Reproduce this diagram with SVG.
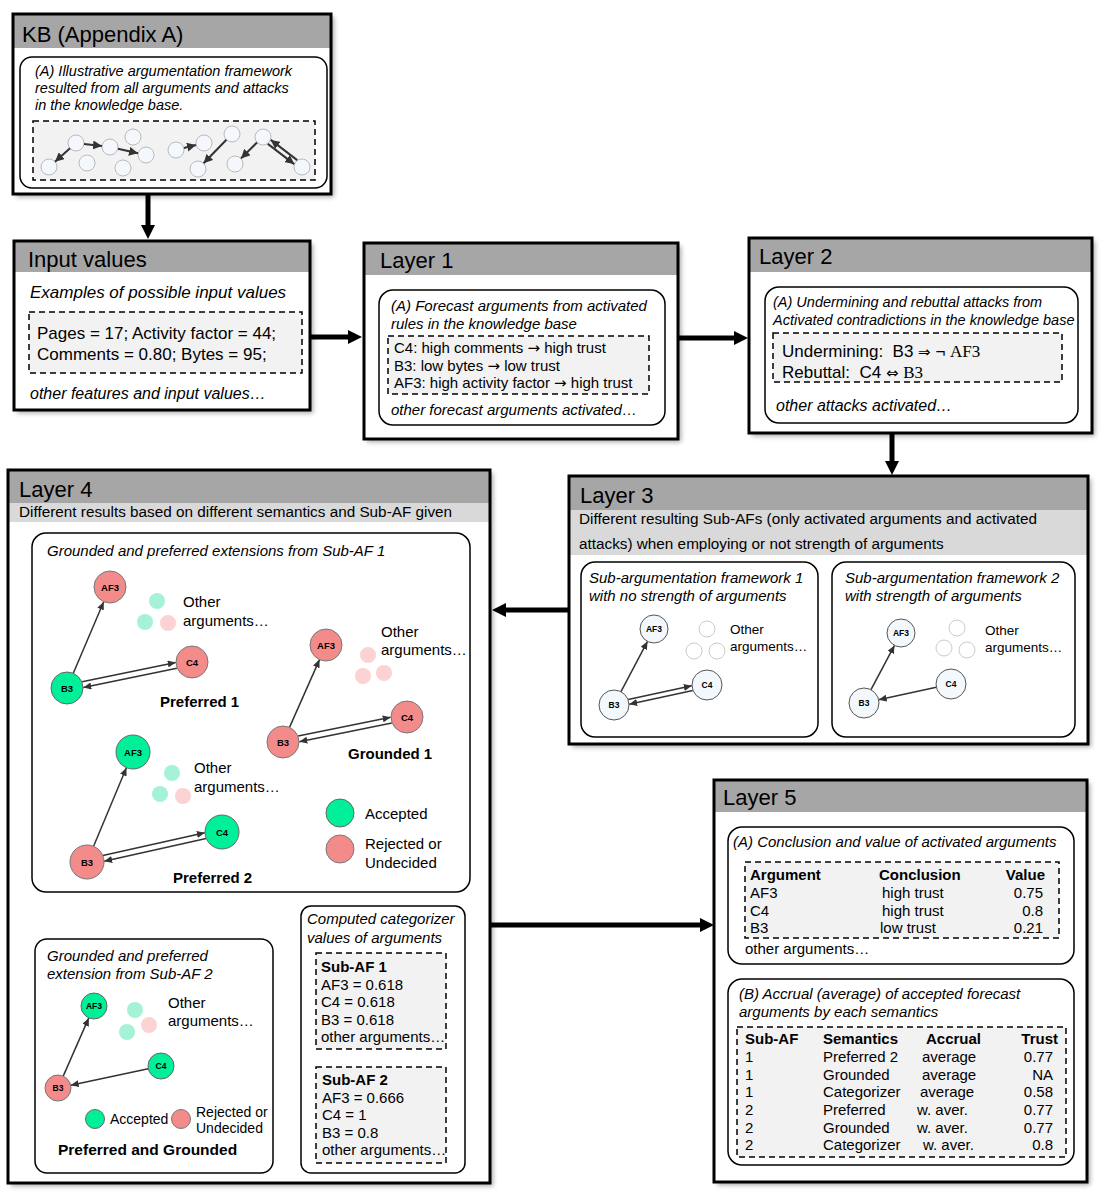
<svg xmlns="http://www.w3.org/2000/svg" width="1106" height="1200" viewBox="0 0 1106 1200">
<defs>
<filter id="sh" x="-5%" y="-5%" width="110%" height="110%"><feDropShadow dx="3" dy="3" stdDeviation="2.5" flood-color="#000" flood-opacity="0.35"/></filter>
<marker id="big" markerUnits="userSpaceOnUse" markerWidth="14" markerHeight="14" refX="1" refY="7" orient="auto"><path d="M0,0 L14,7 L0,14 z" fill="#000"/></marker>
<marker id="ah" markerUnits="userSpaceOnUse" markerWidth="8" markerHeight="7" refX="8" refY="3.5" orient="auto"><path d="M0,0 L8,3.5 L0,7 z" fill="#333"/></marker>
<marker id="ahk" markerUnits="userSpaceOnUse" markerWidth="9" markerHeight="9" refX="9" refY="4.5" orient="auto"><path d="M0,0 L9,4.5 L0,9 z" fill="#333"/></marker>
</defs>
<style>
.box{fill:#fff;stroke:none;filter:url(#sh)}
.bord{fill:none;stroke:#000;stroke-width:3}
.hdr{fill:#a6a6a6}
.band{fill:#d9d9d9}
.inner{fill:#fff;stroke:#000;stroke-width:1.5}
.dash{fill:#f2f2f2;stroke:#000;stroke-width:1.5;stroke-dasharray:6 4}
text{font-family:'Liberation Sans',Arial,sans-serif;fill:#000}
.h{font-size:22px}
.it{font-style:italic}
.b{font-weight:bold}
.s14{font-size:14.5px}
.s15{font-size:15px}
.s16{font-size:16px}
.s17{font-size:17px}
.ar{font-family:'DejaVu Sans',sans-serif;font-size:15px}
.ser{font-family:'Liberation Serif','Times New Roman',serif}
.conn{stroke:#000;stroke-width:5;fill:none}
.e{stroke:#333;stroke-width:1.5;fill:none;marker-end:url(#ah)}
.ek{stroke:#333;stroke-width:2;fill:none;marker-end:url(#ahk)}
.kn{fill:#f4f8fc;stroke:#bbb;stroke-width:1}
.n3{fill:#f3f8fd;stroke:#555;stroke-width:1}
.f3{fill:#fff;stroke:#ccc;stroke-width:1}
.g{fill:#00f09a;stroke:#666;stroke-width:1}
.r{fill:#f48b8b;stroke:#777;stroke-width:1}
.fg{fill:#a6f2d6}
.fr{fill:#fcd2d2}
.nl{font-size:9.5px;font-weight:bold;text-anchor:middle}
.nl3{font-size:8.5px;font-weight:bold;text-anchor:middle}
.end{text-anchor:end}
</style>

<!-- KB -->
<g id="kb">
<rect class="box" x="13" y="14" width="318" height="180"/>
<rect class="hdr" x="13" y="14" width="318" height="34"/>
<rect class="bord" x="13" y="14" width="318" height="180"/>
<text class="h" x="22" y="42">KB (Appendix A)</text>
<rect class="inner" x="20" y="57" width="307" height="131" rx="12"/>
<text class="it s14" x="35" y="76">(A) Illustrative argumentation framework</text>
<text class="it s14" x="35" y="93">resulted from all arguments and attacks</text>
<text class="it s14" x="35" y="110">in the knowledge base.</text>
<rect class="dash" x="33" y="121" width="282" height="59"/>
<circle class="kn" cx="49" cy="167" r="8"/>
<circle class="kn" cx="76" cy="143" r="8"/>
<circle class="kn" cx="87" cy="163" r="8"/>
<circle class="kn" cx="110" cy="147" r="8"/>
<circle class="kn" cx="133" cy="137" r="8"/>
<circle class="kn" cx="123" cy="168" r="8"/>
<circle class="kn" cx="146" cy="155" r="8"/>
<circle class="kn" cx="176" cy="150" r="8"/>
<circle class="kn" cx="204" cy="143" r="8"/>
<circle class="kn" cx="232" cy="134" r="8"/>
<circle class="kn" cx="198" cy="169" r="8"/>
<circle class="kn" cx="235" cy="164" r="8"/>
<circle class="kn" cx="263" cy="137" r="8"/>
<circle class="kn" cx="302" cy="167" r="8"/>
<line class="ek" x1="70" y1="148.3" x2="55" y2="161.7"/>
<line class="ek" x1="84" y1="144" x2="102" y2="146"/>
<line class="ek" x1="118" y1="148.7" x2="138" y2="153.3"/>
<line class="ek" x1="184" y1="148" x2="196" y2="145"/>
<line class="ek" x1="226.4" y1="139.7" x2="203.6" y2="163.3"/>
<line class="ek" x1="257" y1="142.5" x2="241" y2="158.4"/>
<line class="ek" x1="267.8" y1="143.9" x2="294.2" y2="164.1"/>
<line class="ek" x1="297.2" y1="160.1" x2="270.8" y2="139.9"/>
</g>

<!-- Input values -->
<g id="input">
<rect class="box" x="14" y="241" width="296" height="169"/>
<rect class="hdr" x="14" y="241" width="296" height="31"/>
<rect class="bord" x="14" y="241" width="296" height="169"/>
<text class="h" x="28" y="267">Input values</text>
<text class="it s17" x="30" y="298">Examples of possible input values</text>
<rect class="dash" x="29" y="312" width="273" height="61"/>
<text class="s17" x="37" y="339">Pages = 17; Activity factor = 44;</text>
<text class="s17" x="37" y="360">Comments = 0.80; Bytes = 95;</text>
<text class="it s16" x="30" y="399">other features and input values…</text>
</g>

<!-- Layer 1 -->
<g id="layer1">
<rect class="box" x="364" y="243" width="314" height="196"/>
<rect class="hdr" x="364" y="243" width="314" height="32"/>
<rect class="bord" x="364" y="243" width="314" height="196"/>
<text class="h" x="380" y="268">Layer 1</text>
<rect class="inner" x="379" y="290" width="286" height="135" rx="14"/>
<text class="it s15" x="391" y="311">(A) Forecast arguments from activated</text>
<text class="it s15" x="391" y="329">rules in the knowledge base</text>
<rect class="dash" x="388" y="336" width="261" height="58"/>
<text class="s15" x="394" y="353" xml:space="preserve">C4: high comments <tspan class="ar">→</tspan> high trust</text>
<text class="s15" x="394" y="371" xml:space="preserve">B3: low bytes <tspan class="ar">→</tspan> low trust</text>
<text class="s15" x="394" y="388" xml:space="preserve">AF3: high activity factor <tspan class="ar">→</tspan> high trust</text>
<text class="it s15" x="391" y="415">other forecast arguments activated…</text>
</g>

<!-- Layer 2 -->
<g id="layer2">
<rect class="box" x="749" y="238" width="343" height="195"/>
<rect class="hdr" x="749" y="238" width="343" height="34"/>
<rect class="bord" x="749" y="238" width="343" height="195"/>
<text class="h" x="759" y="264">Layer 2</text>
<rect class="inner" x="765" y="287" width="313" height="136" rx="14"/>
<text class="it s14" x="773" y="307">(A) Undermining and rebuttal attacks from</text>
<text class="it s14" x="773" y="325">Activated contradictions in the knowledge base</text>
<rect class="dash" x="773" y="333" width="289" height="49"/>
<text class="s17" x="782" y="357" xml:space="preserve">Undermining:  B3 <tspan class="ar">⇒</tspan> ¬ <tspan class="ser">AF3</tspan></text>
<text class="s17" x="782" y="378" xml:space="preserve">Rebuttal:  C4 <tspan class="ar">⇔</tspan> <tspan class="ser">B3</tspan></text>
<text class="it s16" x="776" y="411">other attacks activated…</text>
</g>

<!-- Layer 3 -->
<g id="layer3">
<rect class="box" x="569" y="476" width="519" height="268"/>
<rect class="hdr" x="569" y="476" width="519" height="34"/>
<rect class="band" x="569" y="510" width="519" height="45"/>
<rect class="bord" x="569" y="476" width="519" height="268"/>
<text class="h" x="580" y="503">Layer 3</text>
<text style="font-size:15.3px" x="579" y="524">Different resulting Sub-AFs (only activated arguments and activated</text>
<text style="font-size:15.3px" x="579" y="549">attacks) when employing or not strength of arguments</text>
<rect class="inner" x="581" y="562" width="237" height="175" rx="14"/>
<text class="it s15" x="589" y="583">Sub-argumentation framework 1</text>
<text class="it s15" x="589" y="601">with no strength of arguments</text>
<circle class="f3" cx="707" cy="629" r="8"/>
<circle class="f3" cx="694" cy="651" r="8"/>
<circle class="f3" cx="717" cy="651" r="8"/>
<text style="font-size:13.5px" x="730" y="634">Other</text>
<text style="font-size:13.5px" x="730" y="651">arguments…</text>
<line class="e" x1="621" y1="691.7" x2="647.5" y2="641.4"/>
<line class="e" x1="628.2" y1="699.4" x2="691.8" y2="685.8"/>
<line class="e" x1="692.8" y1="690.6" x2="629.2" y2="704.2"/>
<circle class="n3" cx="654" cy="629" r="14"/><text class="nl3" x="654" y="632">AF3</text>
<circle class="n3" cx="614" cy="705" r="15"/><text class="nl3" x="614" y="708">B3</text>
<circle class="n3" cx="707" cy="685" r="15"/><text class="nl3" x="707" y="688">C4</text>
<rect class="inner" x="832" y="562" width="243" height="175" rx="14"/>
<text class="it s15" x="845" y="583">Sub-argumentation framework 2</text>
<text class="it s15" x="845" y="601">with strength of arguments</text>
<circle class="f3" cx="957" cy="628" r="8"/>
<circle class="f3" cx="944" cy="648" r="8"/>
<circle class="f3" cx="967" cy="650" r="8"/>
<text style="font-size:13.5px" x="985" y="635">Other</text>
<text style="font-size:13.5px" x="985" y="652">arguments…</text>
<line class="e" x1="871" y1="689.7" x2="894.5" y2="645.4"/>
<line class="e" x1="936.3" y1="687.2" x2="878.7" y2="699.8"/>
<circle class="n3" cx="901" cy="633" r="14"/><text class="nl3" x="901" y="636">AF3</text>
<circle class="n3" cx="864" cy="703" r="15"/><text class="nl3" x="864" y="706">B3</text>
<circle class="n3" cx="951" cy="684" r="15"/><text class="nl3" x="951" y="687">C4</text>
</g>

<!-- Layer 4 -->
<g id="layer4">
<rect class="box" x="8" y="470" width="482" height="713"/>
<rect class="hdr" x="8" y="470" width="482" height="33"/>
<rect class="band" x="8" y="503" width="482" height="19"/>
<rect class="bord" x="8" y="470" width="482" height="713"/>
<text class="h" x="19" y="497">Layer 4</text>
<text style="font-size:15.3px" x="19" y="517">Different results based on different semantics and Sub-AF given</text>
<rect class="inner" x="32" y="533" width="438" height="359" rx="14"/>
<text class="it s15" x="47" y="556">Grounded and preferred extensions from Sub-AF 1</text>
<!-- Preferred 1 -->
<circle class="fg" cx="157" cy="601" r="8"/>
<circle class="fg" cx="145" cy="622" r="8"/>
<circle class="fr" cx="168" cy="623" r="8"/>
<text class="s15" x="183" y="607">Other</text>
<text class="s15" x="183" y="626">arguments…</text>
<line class="e" x1="73.3" y1="673.3" x2="103.7" y2="601.7"/>
<line class="e" x1="82.1" y1="681.8" x2="175.7" y2="662.4"/>
<line class="e" x1="176.9" y1="668.2" x2="83.3" y2="687.6"/>
<circle class="r" cx="110" cy="587" r="16"/><text class="nl" x="110" y="590.5">AF3</text>
<circle class="g" cx="67" cy="688" r="16"/><text class="nl" x="67" y="691.5">B3</text>
<circle class="r" cx="192" cy="662" r="16"/><text class="nl" x="192" y="665.5">C4</text>
<text class="b s15" x="160" y="707">Preferred 1</text>
<!-- Grounded 1 -->
<circle class="fr" cx="368" cy="655" r="8"/>
<circle class="fr" cx="363" cy="676" r="8"/>
<circle class="fr" cx="384" cy="673" r="8"/>
<text class="s15" x="381" y="637">Other</text>
<text class="s15" x="381" y="655">arguments…</text>
<line class="e" x1="289.5" y1="727.4" x2="319.5" y2="659.6"/>
<line class="e" x1="298.1" y1="735.9" x2="390.7" y2="717.3"/>
<line class="e" x1="391.9" y1="723.1" x2="299.3" y2="741.7"/>
<circle class="r" cx="326" cy="645" r="16"/><text class="nl" x="326" y="648.5">AF3</text>
<circle class="r" cx="283" cy="742" r="16"/><text class="nl" x="283" y="745.5">B3</text>
<circle class="r" cx="407" cy="717" r="16"/><text class="nl" x="407" y="720.5">C4</text>
<text class="b s15" x="348" y="759">Grounded 1</text>
<!-- Preferred 2 -->
<circle class="fg" cx="172" cy="773" r="8"/>
<circle class="fg" cx="160" cy="794" r="8"/>
<circle class="fr" cx="183" cy="796" r="8"/>
<text class="s15" x="194" y="773">Other</text>
<text class="s15" x="194" y="792">arguments…</text>
<line class="e" x1="93.6" y1="846.3" x2="126.4" y2="767.7"/>
<line class="e" x1="102.9" y1="855.4" x2="204.8" y2="832.8"/>
<line class="e" x1="206.1" y1="838.6" x2="104.2" y2="861.2"/>
<circle class="g" cx="133" cy="752" r="17"/><text class="nl" x="133" y="755.5">AF3</text>
<circle class="r" cx="87" cy="862" r="17"/><text class="nl" x="87" y="865.5">B3</text>
<circle class="g" cx="222" cy="832" r="17"/><text class="nl" x="222" y="835.5">C4</text>
<text class="b s15" x="173" y="883">Preferred 2</text>
<!-- legend -->
<circle class="g" cx="340" cy="813" r="14"/>
<text class="s15" x="365" y="819">Accepted</text>
<circle class="r" cx="340" cy="849" r="14"/>
<text class="s15" x="365" y="849">Rejected or</text>
<text class="s15" x="365" y="868">Undecided</text>
<!-- Sub-AF 2 box -->
<rect class="inner" x="35" y="939" width="238" height="234" rx="12"/>
<text class="it s15" x="47" y="961">Grounded and preferred</text>
<text class="it s15" x="47" y="979">extension from Sub-AF 2</text>
<circle class="fg" cx="135" cy="1010" r="8"/>
<circle class="fg" cx="127" cy="1032" r="8"/>
<circle class="fr" cx="149" cy="1025" r="8"/>
<text class="s15" x="168" y="1008">Other</text>
<text class="s15" x="168" y="1026">arguments…</text>
<line class="e" x1="63.2" y1="1076.1" x2="88.8" y2="1017.9"/>
<line class="e" x1="148.3" y1="1068.7" x2="70.7" y2="1085.3"/>
<circle class="g" cx="94" cy="1006" r="13"/><text class="nl3" x="94" y="1009">AF3</text>
<circle class="r" cx="58" cy="1088" r="13"/><text class="nl3" x="58" y="1091">B3</text>
<circle class="g" cx="161" cy="1066" r="13"/><text class="nl3" x="161" y="1069">C4</text>
<circle class="g" cx="95" cy="1119" r="9.5"/>
<text style="font-size:14px" x="110" y="1124">Accepted</text>
<circle class="r" cx="181" cy="1119" r="9.5"/>
<text style="font-size:14px" x="196" y="1117">Rejected or</text>
<text style="font-size:14px" x="196" y="1133">Undecided</text>
<text class="b" style="font-size:15.5px" x="58" y="1155">Preferred and Grounded</text>
<!-- categorizer -->
<rect class="inner" x="301" y="906" width="164" height="267" rx="10"/>
<text class="it s15" x="307" y="924">Computed categorizer</text>
<text class="it s15" x="307" y="943">values of arguments</text>
<rect class="dash" x="316" y="953" width="130" height="96"/>
<text class="b s15" x="321" y="972">Sub-AF 1</text>
<text class="s15" x="321" y="990">AF3 = 0.618</text>
<text class="s15" x="321" y="1007">C4 = 0.618</text>
<text class="s15" x="321" y="1025">B3 = 0.618</text>
<text class="s15" x="321" y="1042">other arguments…</text>
<rect class="dash" x="316" y="1067" width="130" height="96"/>
<text class="b s15" x="322" y="1085">Sub-AF 2</text>
<text class="s15" x="322" y="1103">AF3 = 0.666</text>
<text class="s15" x="322" y="1120">C4 = 1</text>
<text class="s15" x="322" y="1138">B3 = 0.8</text>
<text class="s15" x="322" y="1155">other arguments…</text>
</g>

<!-- Layer 5 -->
<g id="layer5">
<rect class="box" x="714" y="780" width="373" height="402"/>
<rect class="hdr" x="714" y="780" width="373" height="32"/>
<rect class="bord" x="714" y="780" width="373" height="402"/>
<text class="h" x="723" y="805">Layer 5</text>
<rect class="inner" x="728" y="827" width="346" height="137" rx="14"/>
<text class="it s15" x="733" y="847">(A) Conclusion and value of activated arguments</text>
<rect class="dash" x="745" y="862" width="314" height="76"/>
<text class="b s15" x="750" y="880">Argument</text>
<text class="b s15" x="879" y="880">Conclusion</text>
<text class="b s15 end" x="1045" y="880">Value</text>
<text class="s15" x="750" y="898">AF3</text><text class="s15" x="882" y="898">high trust</text><text class="s15 end" x="1043" y="898">0.75</text>
<text class="s15" x="750" y="916">C4</text><text class="s15" x="882" y="916">high trust</text><text class="s15 end" x="1043" y="916">0.8</text>
<text class="s15" x="750" y="933">B3</text><text class="s15" x="880" y="933">low trust</text><text class="s15 end" x="1043" y="933">0.21</text>
<text class="s15" x="745" y="954">other arguments…</text>
<rect class="inner" x="728" y="979" width="346" height="186" rx="14"/>
<text class="it s15" x="739" y="999">(B) Accrual (average) of accepted forecast</text>
<text class="it s15" x="739" y="1017">arguments by each semantics</text>
<rect class="dash" x="737" y="1027" width="329" height="130"/>
<text class="b s15" x="745" y="1044">Sub-AF</text>
<text class="b s15" x="823" y="1044">Semantics</text>
<text class="b s15" x="926" y="1044">Accrual</text>
<text class="b s15 end" x="1058" y="1044">Trust</text>
<text class="s15" x="745" y="1062">1</text><text class="s15" x="823" y="1062">Preferred 2</text><text class="s15" x="922" y="1062">average</text><text class="s15 end" x="1053" y="1062">0.77</text>
<text class="s15" x="745" y="1080">1</text><text class="s15" x="823" y="1080">Grounded</text><text class="s15" x="922" y="1080">average</text><text class="s15 end" x="1053" y="1080">NA</text>
<text class="s15" x="745" y="1097">1</text><text class="s15" x="823" y="1097">Categorizer</text><text class="s15" x="920" y="1097">average</text><text class="s15 end" x="1053" y="1097">0.58</text>
<text class="s15" x="745" y="1115">2</text><text class="s15" x="823" y="1115">Preferred</text><text class="s15" x="917" y="1115">w. aver.</text><text class="s15 end" x="1053" y="1115">0.77</text>
<text class="s15" x="745" y="1133">2</text><text class="s15" x="823" y="1133">Grounded</text><text class="s15" x="917" y="1133">w. aver.</text><text class="s15 end" x="1053" y="1133">0.77</text>
<text class="s15" x="745" y="1150">2</text><text class="s15" x="823" y="1150">Categorizer</text><text class="s15" x="923" y="1150">w. aver.</text><text class="s15 end" x="1053" y="1150">0.8</text>
</g>

<!-- connectors -->
<g id="connectors">
<line class="conn" x1="148" y1="195" x2="148" y2="226" marker-end="url(#big)"/>
<line class="conn" x1="311" y1="337" x2="349" y2="337" marker-end="url(#big)"/>
<line class="conn" x1="679" y1="338" x2="735" y2="338" marker-end="url(#big)"/>
<line class="conn" x1="892" y1="434" x2="892" y2="462" marker-end="url(#big)"/>
<line class="conn" x1="568" y1="610" x2="505" y2="610" marker-end="url(#big)"/>
<line class="conn" x1="491" y1="925" x2="701" y2="925" marker-end="url(#big)"/>
</g>
</svg>
